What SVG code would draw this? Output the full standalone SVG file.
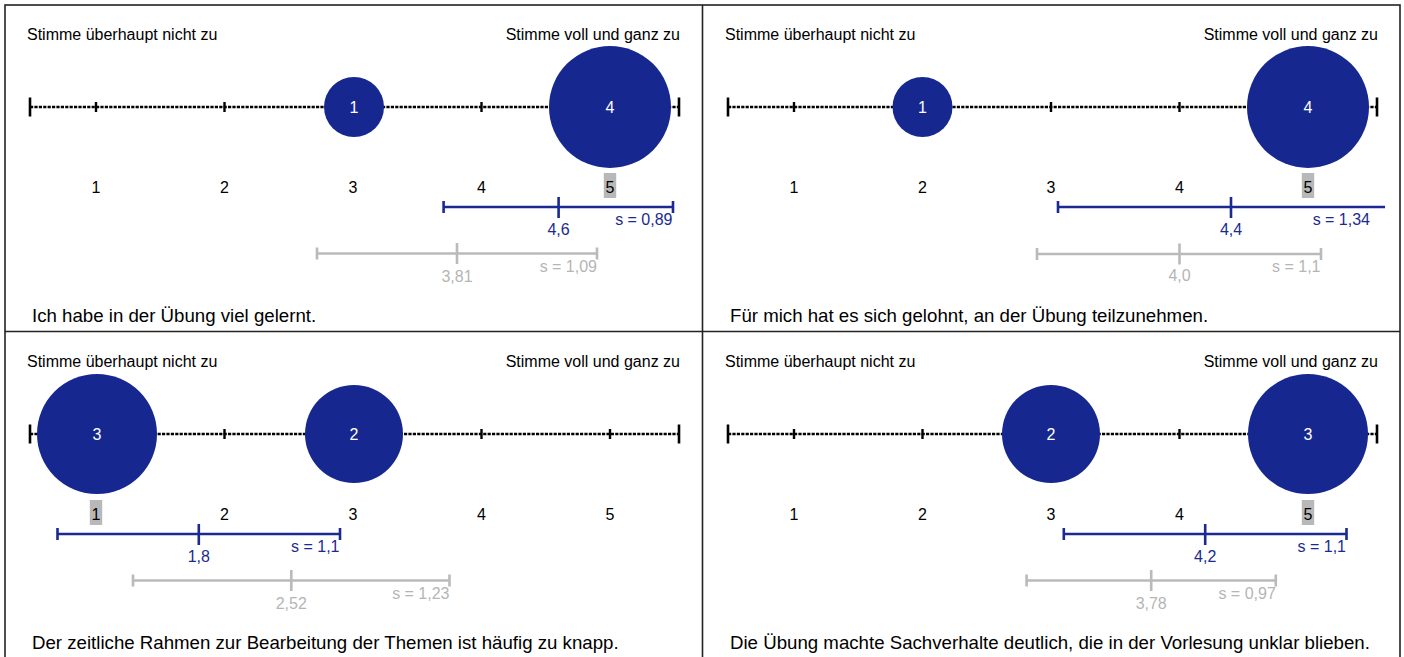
<svg xmlns="http://www.w3.org/2000/svg" width="1404" height="657" viewBox="0 0 1404 657">
<style>
text{font-family:"Liberation Sans",Arial,sans-serif}
.anc{font-size:16px;fill:#000}
.q{font-size:18.67px;fill:#000}
.sc{font-size:16px;fill:#000;text-anchor:middle}
.cl{font-size:16px;fill:#fff;text-anchor:middle}
.bub{fill:#16288f}
.axis{stroke:#000;stroke-width:2.4;stroke-dasharray:3.2 1.2;fill:none}
.tk{stroke:#000;stroke-width:2.4}
.cap{stroke:#000;stroke-width:2.6}
.bb{stroke:#1a2a92;stroke-width:2.6;fill:none}
.gb{stroke:#bababa;stroke-width:2.6;fill:none}
.bt{font-size:16px;fill:#1a2a92}
.gt{font-size:16px;fill:#b5b5b5}
.hl{fill:#b8b8b8}
.frame{stroke:#222;stroke-width:1.6;fill:none}
</style>
<defs>
<g id="axis">
<line class="axis" x1="30" y1="107" x2="679" y2="107"/>
<line class="cap" x1="30" y1="97.5" x2="30" y2="116.5"/>
<line class="cap" x1="679" y1="97.5" x2="679" y2="116.5"/>
<line class="tk" x1="96" y1="102" x2="96" y2="112"/>
<line class="tk" x1="224.5" y1="102" x2="224.5" y2="112"/>
<line class="tk" x1="353" y1="102" x2="353" y2="112"/>
<line class="tk" x1="481.5" y1="102" x2="481.5" y2="112"/>
<line class="tk" x1="610" y1="102" x2="610" y2="112"/>
</g>
<g id="labels">
<text class="anc" x="27" y="40">Stimme überhaupt nicht zu</text>
<text class="anc" x="680" y="40" text-anchor="end">Stimme voll und ganz zu</text>
</g>
<g id="scale">
<text class="sc" x="96" y="193">1</text>
<text class="sc" x="224.5" y="193">2</text>
<text class="sc" x="353" y="193">3</text>
<text class="sc" x="481.5" y="193">4</text>
<text class="sc" x="610" y="193">5</text>
</g>
</defs>

<g id="frame">
<rect class="frame" x="5" y="5" width="1395" height="660"/>
<line class="frame" x1="702.5" y1="5" x2="702.5" y2="657"/>
<line class="frame" x1="5" y1="331.5" x2="1400" y2="331.5"/>
</g>

<g id="panel1">
<use href="#labels"/>
<use href="#axis"/>
<rect class="hl" x="603.8" y="173" width="12.4" height="25"/>
<use href="#scale"/>
<g id="p1-bubble-3"><circle class="bub" cx="354" cy="107" r="30"/><text class="cl" x="354" y="112.5">1</text></g>
<g id="p1-bubble-5"><circle class="bub" cx="610" cy="107" r="61"/><text class="cl" x="610" y="112.5">4</text></g>
<g id="p1-blue">
<path class="bb" d="M443.6 207H673M443.6 201V213M673 201V213M558.6 197V218"/>
<text class="bt" x="558.6" y="235" text-anchor="middle">4,6</text>
<text class="bt" x="672.5" y="225" text-anchor="end">s = 0,89</text>
</g>
<g id="p1-gray">
<path class="gb" d="M317 253.5H597M317 247.5V259.5M597 247.5V259.5M457 243V264"/>
<text class="gt" x="457" y="282" text-anchor="middle">3,81</text>
<text class="gt" x="597" y="272" text-anchor="end">s = 1,09</text>
</g>
<text class="q" x="32" y="322">Ich habe in der Übung viel gelernt.</text>
</g>

<g id="panel2" transform="translate(698,0)">
<use href="#labels"/>
<use href="#axis"/>
<rect class="hl" x="603.8" y="173" width="12.4" height="25"/>
<use href="#scale"/>
<g id="p2-bubble-2"><circle class="bub" cx="224.5" cy="107" r="30"/><text class="cl" x="224.5" y="112.5">1</text></g>
<g id="p2-bubble-5"><circle class="bub" cx="610" cy="107" r="61"/><text class="cl" x="610" y="112.5">4</text></g>
<g id="p2-blue">
<path class="bb" d="M360 207H687M360 201V213M533 197V218"/>
<text class="bt" x="533" y="235" text-anchor="middle">4,4</text>
<text class="bt" x="672" y="225" text-anchor="end">s = 1,34</text>
</g>
<g id="p2-gray">
<path class="gb" d="M339 254H623M339 248V260M623 248V260M481.5 243.5V264.5"/>
<text class="gt" x="481.5" y="281" text-anchor="middle">4,0</text>
<text class="gt" x="622.5" y="272" text-anchor="end">s = 1,1</text>
</g>
<text class="q" x="32" y="322">Für mich hat es sich gelohnt, an der Übung teilzunehmen.</text>
</g>

<g id="panel3" transform="translate(0,327)">
<use href="#labels"/>
<use href="#axis"/>
<rect class="hl" x="89.8" y="173" width="12.4" height="25"/>
<use href="#scale"/>
<g id="p3-bubble-1"><circle class="bub" cx="97" cy="107" r="60"/><text class="cl" x="97" y="112.5">3</text></g>
<g id="p3-bubble-3"><circle class="bub" cx="354" cy="107" r="49"/><text class="cl" x="354" y="112.5">2</text></g>
<g id="p3-blue">
<path class="bb" d="M57.5 207H340M57.5 201V213M340 201V213M198.8 197V218"/>
<text class="bt" x="198.8" y="235" text-anchor="middle">1,8</text>
<text class="bt" x="339.5" y="225" text-anchor="end">s = 1,1</text>
</g>
<g id="p3-gray">
<path class="gb" d="M133 253.5H449.5M133 247.5V259.5M449.5 247.5V259.5M291.3 243V264"/>
<text class="gt" x="291.3" y="282" text-anchor="middle">2,52</text>
<text class="gt" x="449.5" y="272" text-anchor="end">s = 1,23</text>
</g>
<text class="q" x="32" y="322">Der zeitliche Rahmen zur Bearbeitung der Themen ist häufig zu knapp.</text>
</g>

<g id="panel4" transform="translate(698,327)">
<use href="#labels"/>
<use href="#axis"/>
<rect class="hl" x="603.8" y="173" width="12.4" height="25"/>
<use href="#scale"/>
<g id="p4-bubble-3"><circle class="bub" cx="353" cy="107" r="49"/><text class="cl" x="353" y="112.5">2</text></g>
<g id="p4-bubble-5"><circle class="bub" cx="610" cy="107" r="60"/><text class="cl" x="610" y="112.5">3</text></g>
<g id="p4-blue">
<path class="bb" d="M365.8 207H648.5M365.8 201V213M648.5 201V213M507.2 197V218"/>
<text class="bt" x="507.2" y="235" text-anchor="middle">4,2</text>
<text class="bt" x="648" y="225" text-anchor="end">s = 1,1</text>
</g>
<g id="p4-gray">
<path class="gb" d="M328.6 253.5H577.8M328.6 247.5V259.5M577.8 247.5V259.5M453.2 243V264"/>
<text class="gt" x="453.2" y="282" text-anchor="middle">3,78</text>
<text class="gt" x="577.8" y="272" text-anchor="end">s = 0,97</text>
</g>
<text class="q" x="32" y="322">Die Übung machte Sachverhalte deutlich, die in der Vorlesung unklar blieben.</text>
</g>
</svg>
